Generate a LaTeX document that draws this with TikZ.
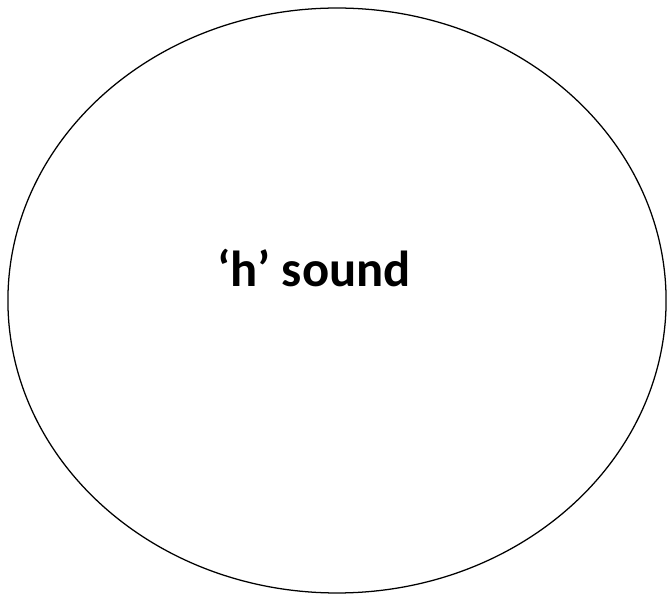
\documentclass[tikz,border=0pt]{standalone}
\usepackage{fontspec}
\setmainfont{Carlito}
\usetikzlibrary{shapes.geometric}

\begin{document}
\begin{tikzpicture}[x=0.025cm, y=-0.025cm,
        outline/.style={draw, ellipse, line width=0.9pt, inner sep=0pt,
                minimum width=16.45cm, minimum height=14.62cm},
        soundtext/.style={font=\fontsize{36}{40}\selectfont\bfseries}
        ]
        \useasboundingbox (0,0) rectangle (672,602);

        % ---------------- Sound circle ----------------
        \node[outline] (sound) at (337,300.5) {};
        \node[soundtext] (label) at (314,268) {‘h’ sound};

\end{tikzpicture}
\end{document}
